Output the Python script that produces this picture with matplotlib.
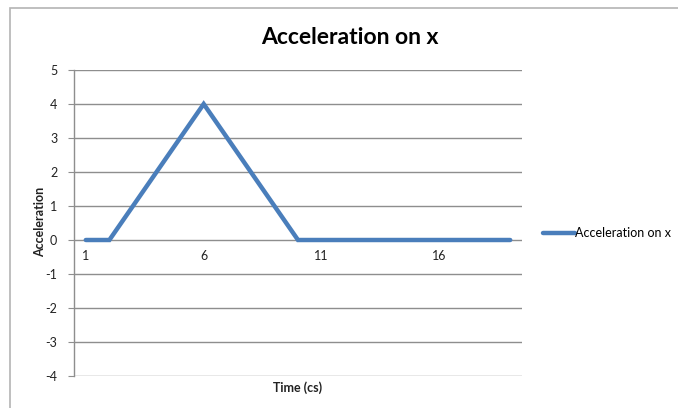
import matplotlib.pyplot as plt
from matplotlib.patches import Rectangle

# data
time_cs = list(range(1, 20))
accel_x = [0, 0, 1, 2, 3, 4, 3, 2, 1, 0, 0, 0, 0, 0, 0, 0, 0, 0, 0]
x_ticks = [1, 6, 11, 16]
y_ticks = [5, 4, 3, 2, 1, 0, -1, -2, -3, -4]

plt.rcParams['font.family'] = ['Lato', 'DejaVu Sans']
plt.rcParams['axes.unicode_minus'] = False

W, H = 678, 408
fig = plt.figure(figsize=(W / 100, H / 100), dpi=100)

# chart-area frame (only top and left visible in the picture)
fig.patches.append(Rectangle((10 / W, -0.1), 1.2, (1 - 8 / H) + 0.1,
                             transform=fig.transFigure, fill=False,
                             edgecolor='#b4b4b4', linewidth=1.2))

ax = fig.add_axes([74 / W, 1 - 376 / H, 448 / W, 306 / H])

line_color = '#4a7ebb'
grid_color = '#8e8e8e'
text_color = '#222222'

ax.plot(time_cs, accel_x, color=line_color, linewidth=3.2,
        solid_capstyle='round', solid_joinstyle='miter', zorder=3,
        label='Acceleration on x')

ax.set_xlim(0.5, 19.5)
ax.set_ylim(-4, 5)
ax.set_yticks(y_ticks)
ax.set_xticks([])
ax.yaxis.grid(True, color=grid_color, linewidth=1.0)
ax.set_axisbelow(True)

for s in ['top', 'right', 'bottom']:
    ax.spines[s].set_visible(False)
ax.spines['left'].set_color(grid_color)
ax.spines['left'].set_linewidth(1.0)

ax.tick_params(axis='y', length=4, color=grid_color, labelsize=9, pad=8,
               labelcolor=text_color)

# category labels sit just under the zero line
for t in x_ticks:
    ax.text(t, -0.3, str(t), ha='center', va='top', fontsize=9,
            color=text_color)

fig.text(350 / W, 1 - 38 / H, 'Acceleration on x', ha='center',
         va='center', fontsize=16.5, fontweight='bold')
fig.text(298 / W, 1 - 388 / H, 'Time (cs)', ha='center', va='center',
         fontsize=9, fontweight='bold', color=text_color)
fig.text(40 / W, 1 - 222 / H, 'Acceleration', ha='center', va='center',
         rotation=90, fontsize=9, fontweight='bold', color=text_color)

ax.legend(loc='center left', bbox_to_anchor=(1.035, 0.467),
          frameon=False, fontsize=9, handlelength=2.6,
          handletextpad=0.0, borderaxespad=0)

fig.savefig('out.png', dpi=100)
